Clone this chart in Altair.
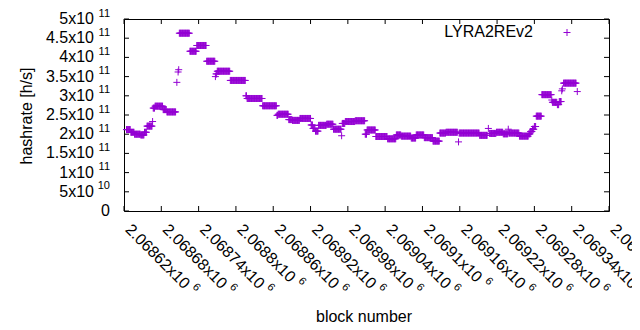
import altair as alt
import pandas as pd

# ---- data: runs of consecutive blocks with the same hashrate (x1e11 h/s) ----
run_first = [2068624, 2068631, 2068637, 2068647, 2068653, 2068657, 2068666, 2068667, 2068670, 2068683,
             2068689, 2068705, 2068707, 2068708, 2068709, 2068726, 2068737, 2068753, 2068767, 2068768,
             2068770, 2068791, 2068816, 2068818, 2068843, 2068866, 2068868, 2068885, 2068891, 2068903,
             2068921, 2068924, 2068928, 2068933, 2068946, 2068957, 2068970, 2068971, 2068976, 2068992,
             2069008, 2069011, 2069025, 2069044, 2069058, 2069066, 2069082, 2069090, 2069103, 2069117,
             2069128, 2069138, 2069158, 2069159, 2069192, 2069206, 2069208, 2069219, 2069230, 2069238,
             2069239, 2069256, 2069271, 2069274, 2069277, 2069280, 2069283, 2069292, 2069308, 2069309,
             2069317, 2069320, 2069324, 2069325, 2069327, 2069349]
run_last = [2068630, 2068636, 2068646, 2068652, 2068656, 2068665, 2068666, 2068669, 2068682, 2068688,
            2068703, 2068705, 2068707, 2068708, 2068725, 2068736, 2068752, 2068766, 2068767, 2068769,
            2068790, 2068815, 2068817, 2068842, 2068865, 2068867, 2068884, 2068890, 2068902, 2068920,
            2068923, 2068927, 2068932, 2068945, 2068956, 2068969, 2068970, 2068975, 2068991, 2069007,
            2069010, 2069024, 2069043, 2069057, 2069065, 2069081, 2069089, 2069102, 2069116, 2069127,
            2069137, 2069156, 2069158, 2069191, 2069204, 2069206, 2069218, 2069229, 2069237, 2069238,
            2069255, 2069270, 2069273, 2069276, 2069279, 2069282, 2069291, 2069307, 2069308, 2069316,
            2069319, 2069323, 2069324, 2069325, 2069347, 2069349]
run_rate = [2.12, 2.05, 2.00, 1.98, 2.05, 2.21, 2.33, 2.68, 2.73, 2.64,
            2.58, 3.35, 3.62, 3.68, 4.63, 4.16, 4.31, 3.90, 3.50, 3.57,
            3.64, 3.40, 3.00, 2.93, 2.74, 2.49, 2.52, 2.38, 2.36, 2.41,
            2.24, 2.15, 2.08, 2.23, 2.26, 2.13, 1.96, 2.28, 2.33, 2.35,
            2.00, 2.11, 1.94, 1.88, 1.98, 1.95, 1.90, 1.98, 1.91, 1.82,
            2.03, 2.05, 1.80, 2.03, 1.97, 2.15, 2.02, 2.05, 2.01, 2.13,
            2.03, 1.95, 2.01, 2.07, 2.13, 2.20, 2.47, 3.03, 2.89, 2.83,
            2.77, 2.85, 3.13, 3.18, 3.33, 3.11]

x_tick_values = [2068620, 2068680, 2068740, 2068800, 2068860, 2068920, 2068980,
                 2069040, 2069100, 2069160, 2069220, 2069280, 2069340, 2069400]
x_tick_mantissa = ["2.06862x10", "2.06868x10", "2.06874x10", "2.0688x10", "2.06886x10",
                   "2.06892x10", "2.06898x10", "2.06904x10", "2.0691x10", "2.06916x10",
                   "2.06922x10", "2.06928x10", "2.06934x10", "2.0694x10"]
x_tick_exp = ["6"] * len(x_tick_values)

y_tick_values = [0, 5e10, 1e11, 1.5e11, 2e11, 2.5e11, 3e11, 3.5e11, 4e11, 4.5e11, 5e11]
y_tick_mantissa = ["0", "5x10", "1x10", "1.5x10", "2x10", "2.5x10", "3x10", "3.5x10", "4x10", "4.5x10", "5x10"]
y_tick_exp = ["", "10", "11", "11", "11", "11", "11", "11", "11", "11", "11"]

series_name = "LYRA2REv2"

# ---- tables built from the arrays ----
blocks, rates = [], []
for f, l, r in zip(run_first, run_last, run_rate):
    for b in range(f, l + 1):
        blocks.append(b)
        rates.append(r * 1e11)
pts = pd.DataFrame({"block": blocks, "rate": rates})
xt = pd.DataFrame({"v": x_tick_values, "m": x_tick_mantissa, "e": x_tick_exp})
yt = pd.DataFrame({"v": y_tick_values, "m": y_tick_mantissa, "e": y_tick_exp})
leg = pd.DataFrame({"name": [series_name]})

W, H = 485, 192
FONT = "Liberation Sans"
PURPLE = "#9400d3"
PLUS = "M-1,0L1,0M0,-1L0,1"

xs = alt.Scale(domain=[2068620, 2069400], nice=False, zero=False)
ys = alt.Scale(domain=[0, 5e11], nice=False, zero=False)

points = alt.Chart(pts).mark_point(
    shape=PLUS, filled=False, size=49, strokeWidth=1, color=PURPLE, opacity=1
).encode(
    x=alt.X("block:Q", scale=xs, axis=None),
    y=alt.Y("rate:Q", scale=ys, axis=None),
)

tick_style = dict(color="black", strokeWidth=1)
xb = alt.Chart(xt).mark_rule(**tick_style).encode(
    x=alt.X("v:Q", scale=xs, axis=None), y=alt.value(H), y2=alt.value(H - 5))
xtop = alt.Chart(xt).mark_rule(**tick_style).encode(
    x=alt.X("v:Q", scale=xs, axis=None), y=alt.value(0), y2=alt.value(5))
yl = alt.Chart(yt).mark_rule(**tick_style).encode(
    y=alt.Y("v:Q", scale=ys, axis=None), x=alt.value(0), x2=alt.value(5))
yr = alt.Chart(yt).mark_rule(**tick_style).encode(
    y=alt.Y("v:Q", scale=ys, axis=None), x=alt.value(W), x2=alt.value(W - 5))

# y labels
y_mant = alt.Chart(yt).transform_filter("datum.e != ''").mark_text(
    font=FONT, fontSize=16, align="right", baseline="middle", color="black"
).encode(y=alt.Y("v:Q", scale=ys, axis=None), x=alt.value(-30), text="m:N")
y_zero = alt.Chart(yt).transform_filter("datum.e == ''").mark_text(
    font=FONT, fontSize=16, align="right", baseline="middle", color="black"
).encode(y=alt.Y("v:Q", scale=ys, axis=None), x=alt.value(-14), text="m:N")
y_exp = alt.Chart(yt).transform_filter("datum.e != ''").mark_text(
    font=FONT, fontSize=11, align="right", baseline="middle", dy=-5.5, color="black"
).encode(y=alt.Y("v:Q", scale=ys, axis=None), x=alt.value(-14), text="e:N")

# x labels (rotated)
XL_Y = H + 16
SH = 2.8  # shift along the rotated frame
x_mant = alt.Chart(xt).mark_text(
    font=FONT, fontSize=16, align="left", baseline="middle", angle=45, dx=SH, dy=-SH, color="black"
).encode(x=alt.X("v:Q", scale=xs, axis=None), y=alt.value(XL_Y), text="m:N")
x_exp10 = alt.Chart(xt).transform_filter("length(datum.m) == 10").mark_text(
    font=FONT, fontSize=11, align="left", baseline="middle", angle=45, dx=88 + SH, dy=-5.5 - SH,
    color="black"
).encode(x=alt.X("v:Q", scale=xs, axis=None), y=alt.value(XL_Y), text="e:N")
x_exp9 = alt.Chart(xt).transform_filter("length(datum.m) == 9").mark_text(
    font=FONT, fontSize=11, align="left", baseline="middle", angle=45, dx=79.5 + SH, dy=-5.5 - SH,
    color="black"
).encode(x=alt.X("v:Q", scale=xs, axis=None), y=alt.value(XL_Y), text="e:N")

# titles
ytitle = alt.Chart(leg).mark_text(
    font=FONT, fontSize=16, align="center", baseline="alphabetic", angle=270, color="black"
).encode(x=alt.value(-92.5), y=alt.value(97), text=alt.value("hashrate [h/s]"))
xtitle = alt.Chart(leg).mark_text(
    font=FONT, fontSize=16, align="center", baseline="alphabetic", color="black"
).encode(x=alt.value(240), y=alt.value(H + 110.5), text=alt.value("block number"))

# legend
leg_text = alt.Chart(leg).mark_text(
    font=FONT, fontSize=16, align="right", baseline="middle", color="black"
).encode(x=alt.value(409), y=alt.value(13), text="name:N")
leg_sym = alt.Chart(leg).mark_point(
    shape=PLUS, filled=False, size=49, strokeWidth=1, color=PURPLE, opacity=1
).encode(x=alt.value(443), y=alt.value(13.5))

chart = alt.layer(
    points, xb, xtop, yl, yr, y_mant, y_zero, y_exp, x_mant, x_exp10, x_exp9,
    ytitle, xtitle, leg_text, leg_sym
).properties(
    width=W, height=H,
    autosize=alt.AutoSizeParams(type="none"),
    padding={"left": 116, "top": 11, "right": 23, "bottom": 111},
    background="white",
).configure_view(stroke="black", strokeWidth=1)

chart.save("out.html", embed_options={"renderer": "svg", "actions": False})
